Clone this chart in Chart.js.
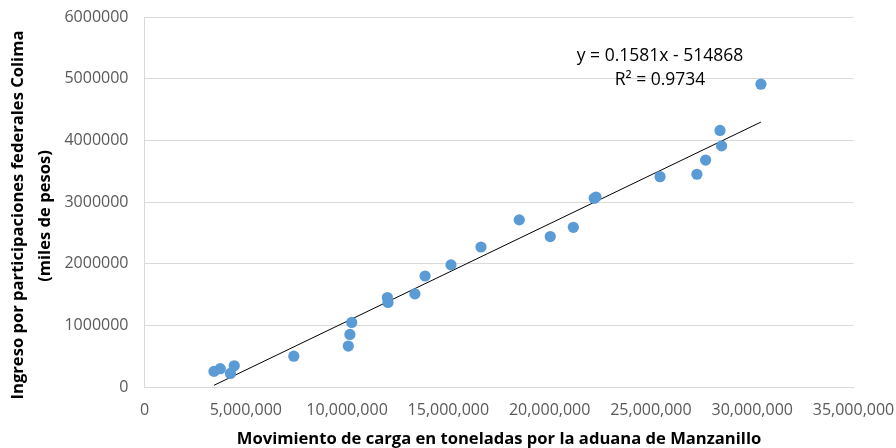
<!DOCTYPE html>
<html>
<head>
<meta charset="utf-8">
<script src="https://cdn.jsdelivr.net/npm/chart.js@4.4.1/dist/chart.umd.min.js"></script>
<style>
html,body{margin:0;padding:0;background:#fff;}
#wrap{width:896px;height:448px;}
</style>
</head>
<body>
<div id="wrap"><canvas id="c" width="896" height="448"></canvas></div>
<script>
// Movimiento de carga (toneladas), Manzanillo
const cargaToneladas = [3430000, 3740000, 4240000, 4430000, 7370000, 10060000, 10140000, 10230000,
  11990000, 12020000, 13350000, 13850000, 15130000, 16610000, 18500000, 20030000, 21170000,
  22200000, 22290000, 25450000, 27270000, 27700000, 28410000, 28490000, 30430000];
// Ingreso por participaciones federales Colima (miles de pesos)
const ingresoColima = [253000, 297000, 220000, 345000, 500000, 664000, 852000, 1047000,
  1450000, 1370000, 1510000, 1800000, 1980000, 2270000, 2710000, 2440000, 2590000,
  3060000, 3080000, 3410000, 3450000, 3680000, 4160000, 3910000, 4910000];
const trendSlope = [0.1581];
const trendIntercept = [-514868];
const trendLabels = ["y = 0.1581x - 514868", "R\u00B2 = 0.9734"];
const xTitle = "Movimiento de carga en toneladas por la aduana de Manzanillo";
const yTitle = ["Ingreso por participaciones federales Colima", "(miles de pesos)"];

const points = cargaToneladas.map((x, i) => ({x: x, y: ingresoColima[i]}));
const xMin = Math.min(...cargaToneladas), xMax = Math.max(...cargaToneladas);
const trend = [xMin, xMax].map(x => ({x: x, y: trendSlope[0] * x + trendIntercept[0]}));

const FONT = "'Open Sans', sans-serif";

const textPlugin = {
  id: 'texts',
  afterDraw(chart) {
    const ctx = chart.ctx;
    const xs = chart.scales.x;
    ctx.save();
    ctx.fillStyle = '#000';
    ctx.textAlign = 'center';
    ctx.textBaseline = 'middle';
    // trendline equation
    ctx.font = "17.5px " + FONT;
    ctx.fillText(trendLabels[0], 660, 56);
    ctx.fillText(trendLabels[1], 660, 80);
    // x title
    ctx.font = "bold 16.6px " + FONT;
    ctx.fillText(xTitle, (xs.left + xs.right) / 2, 439);
    // y title
    ctx.save();
    ctx.translate(18, 215);
    ctx.rotate(-Math.PI / 2);
    ctx.fillText(yTitle[0], 0, 0);
    ctx.restore();
    ctx.save();
    ctx.translate(45, 216);
    ctx.rotate(-Math.PI / 2);
    ctx.fillText(yTitle[1], 0, 0);
    ctx.restore();
    ctx.restore();
  }
};

new Chart(document.getElementById('c'), {
  type: 'scatter',
  data: {
    datasets: [
      {
        label: 'Datos',
        data: points,
        backgroundColor: '#5B9BD5',
        borderColor: '#5B9BD5',
        borderWidth: 0,
        pointRadius: 5.6,
        pointHoverRadius: 5.6
      },
      {
        type: 'line',
        label: 'Tendencia',
        data: trend,
        borderColor: '#000',
        borderWidth: 1,
        pointRadius: 0,
        fill: false
      }
    ]
  },
  options: {
    responsive: false,
    animation: false,
    devicePixelRatio: 1,
    layout: {padding: {top: 17, right: 42.5, left: 0, bottom: 0}},
    plugins: {legend: {display: false}, tooltip: {enabled: false}},
    scales: {
      x: {
        type: 'linear',
        min: 0, max: 35000000,
        afterFit(s) { s.height = 61; s.paddingLeft = 0; s.paddingRight = 0; },
        grid: {display: false, drawTicks: false},
        border: {display: true, color: '#D9D9D9', width: 1},
        ticks: {
          stepSize: 5000000,
          padding: 14,
          color: '#595959',
          font: {family: FONT, size: 16},
          maxRotation: 0,
          callback: v => v.toLocaleString('en-US')
        }
      },
      y: {
        type: 'linear',
        min: 0, max: 6000000,
        afterFit(s) { s.width = 144.5; s.paddingTop = 0; s.paddingBottom = 0; },
        grid: {color: '#D9D9D9', drawTicks: false},
        border: {display: true, color: '#D9D9D9', width: 1},
        ticks: {
          stepSize: 1000000,
          padding: 16,
          color: '#595959',
          font: {family: FONT, size: 16},
          callback: v => String(v)
        }
      }
    }
  },
  plugins: [textPlugin]
});
</script>
</body>
</html>
